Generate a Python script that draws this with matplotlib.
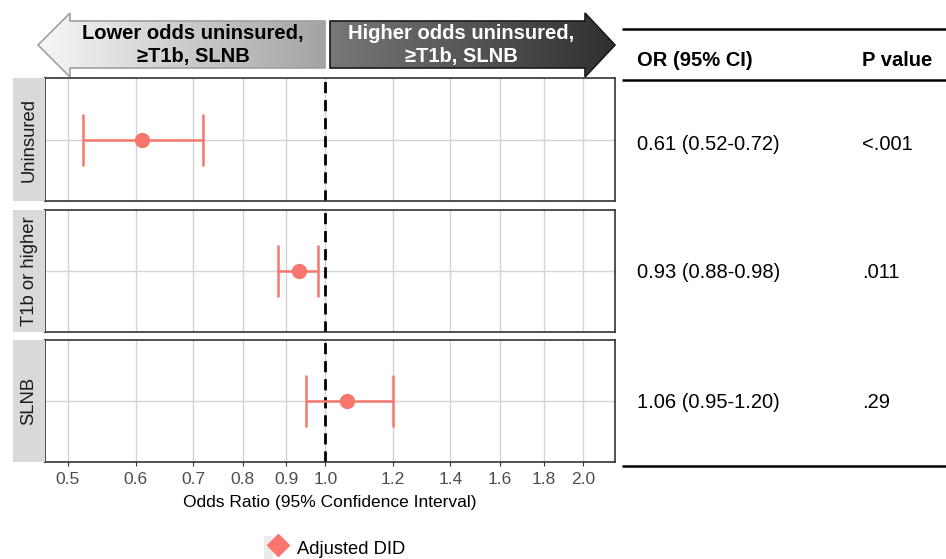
import numpy as np
import matplotlib
matplotlib.use("Agg")
import matplotlib.pyplot as plt
from matplotlib.patches import Polygon, Rectangle
from matplotlib.lines import Line2D
from matplotlib.colors import LinearSegmentedColormap
from matplotlib.legend_handler import HandlerTuple

plt.rcParams['font.family'] = ['Liberation Sans', 'DejaVu Sans']

# data
groups = ["Uninsured", "T1b or higher", "SLNB"]
odds = [0.61, 0.93, 1.06]
ci_low = [0.52, 0.88, 0.95]
ci_high = [0.72, 0.98, 1.20]
or_text = ["0.61 (0.52-0.72)", "0.93 (0.88-0.98)", "1.06 (0.95-1.20)"]
p_text = ["<.001", ".011", ".29"]
xticks = [0.5, 0.6, 0.7, 0.8, 0.9, 1.0, 1.2, 1.4, 1.6, 1.8, 2.0]
series_name = "Adjusted DID"

W, H = 946, 559
red = "#F8766D"

fig = plt.figure(figsize=(W / 100, H / 100), dpi=100)

def rect(x0, y0, x1, y1):
    # pixel box -> figure fraction
    return [x0 / W, 1 - y1 / H, (x1 - x0) / W, (y1 - y0) / H]

panel_y = [(78, 201), (210, 332), (340, 462)]
px_left, px_right = 45, 615

axes = []
for i, (y0, y1) in enumerate(panel_y):
    ax = fig.add_axes(rect(px_left, y0, px_right, y1))
    ax.set_xscale('log')
    ax.set_xlim(0.47, 2.18)
    ax.set_ylim(0, 1)
    ax.set_xticks(xticks)
    ax.set_xticks([], minor=True)
    ax.set_yticks([])
    for t in xticks:
        ax.axvline(t, color="#d4d4d4", lw=1, zorder=0)
    ax.axhline(0.5, color="#d4d4d4", lw=1, zorder=0)
    ax.axvline(1.0, color="black", lw=2, ls=(0, (4, 2.5)), zorder=2)
    ax.errorbar([odds[i]], [0.5],
                xerr=[[odds[i] - ci_low[i]], [ci_high[i] - odds[i]]],
                fmt='o', color=red, ms=10, elinewidth=1.8, capsize=18.5,
                capthick=1.8, zorder=3)
    for s in ax.spines.values():
        s.set_color("#333333")
        s.set_linewidth(1.2)
    if i < 2:
        ax.tick_params(axis='x', which='both', bottom=False, labelbottom=False)
    else:
        ax.set_xticklabels(["%.1f" % t for t in xticks])
        ax.tick_params(axis='x', length=3, color="#333333", labelsize=12.5,
                       labelcolor="#4d4d4d", pad=4)
        ax.set_xlabel("Odds Ratio (95% Confidence Interval)", fontsize=12.5,
                      color="black", labelpad=6)
    # strip
    sax = fig.add_axes(rect(13, y0, px_left, y1))
    sax.set_facecolor("#d9d9d9")
    sax.set_xticks([])
    sax.set_yticks([])
    for s in sax.spines.values():
        s.set_visible(False)
    sax.text(0.5, 0.5, groups[i], rotation=90, ha='center', va='center',
             fontsize=13.3, color="#1a1a1a", transform=sax.transAxes)
    axes.append(ax)

# overlay for arrows and table
ov = fig.add_axes([0, 0, 1, 1], zorder=-1)
ov.set_xlim(0, W)
ov.set_ylim(H, 0)
ov.axis('off')

def grad_arrow(pts, c0, c1, edge, x0, x1):
    poly = Polygon(pts, closed=True, facecolor='none', edgecolor=edge, lw=1.2, zorder=3)
    ov.add_patch(poly)
    cmap = LinearSegmentedColormap.from_list("g", [c0, c1])
    im = ov.imshow(np.linspace(0, 1, 256).reshape(1, -1), cmap=cmap,
                   extent=[x0, x1, 80, 10], aspect='auto', zorder=2)
    im.set_clip_path(poly)

left_pts = [(38, 45), (70, 13), (70, 21), (325, 21), (325, 68), (70, 68), (70, 77)]
right_pts = [(330, 21), (585, 21), (585, 13), (615, 45), (585, 77), (585, 68), (330, 68)]
grad_arrow(left_pts, "#f7f7f7", "#a3a3a3", "#a0a0a0", 38, 325)
grad_arrow(right_pts, "#787878", "#303030", "#1a1a1a", 330, 615)
ov.set_xlim(0, W)
ov.set_ylim(H, 0)

ov.text(193, 45, "Lower odds uninsured,\n≥T1b, SLNB", ha='center', va='center',
        fontsize=14.5, fontweight='bold', color="black", linespacing=1.3, zorder=4)
ov.text(461, 45, "Higher odds uninsured,\n≥T1b, SLNB", ha='center', va='center',
        fontsize=14.5, fontweight='bold', color="white", linespacing=1.3, zorder=4)

# table
for yy in [29, 80, 466]:
    ov.plot([622, 946], [yy, yy], color="black", lw=1.8, solid_capstyle='butt')
ov.text(637, 61, "OR (95% CI)", ha='left', va='center', fontsize=14.5, fontweight='bold')
ov.text(862, 61, "P value", ha='left', va='center', fontsize=14.5, fontweight='bold')
row_y = [145, 273, 403]
for i in range(len(groups)):
    ov.text(637, row_y[i], or_text[i], ha='left', va='center', fontsize=14.5)
    ov.text(862, row_y[i], p_text[i], ha='left', va='center', fontsize=14.5)

# legend
key_bg = Rectangle((0, 0), 1, 1, facecolor="#ebebeb", edgecolor='none')
key_pt = Line2D([], [], marker='D', color=red, ls='none', ms=11)
fig.legend([(key_bg, key_pt)], [series_name], handler_map={tuple: HandlerTuple(ndivide=None)},
           loc='center left', bbox_to_anchor=(264 / W, 1 - 548 / H), frameon=False,
           fontsize=13.2, handlelength=1.0, handleheight=1.6, handletextpad=0.8,
           borderaxespad=0, borderpad=0)

fig.savefig("out.png", dpi=100)
